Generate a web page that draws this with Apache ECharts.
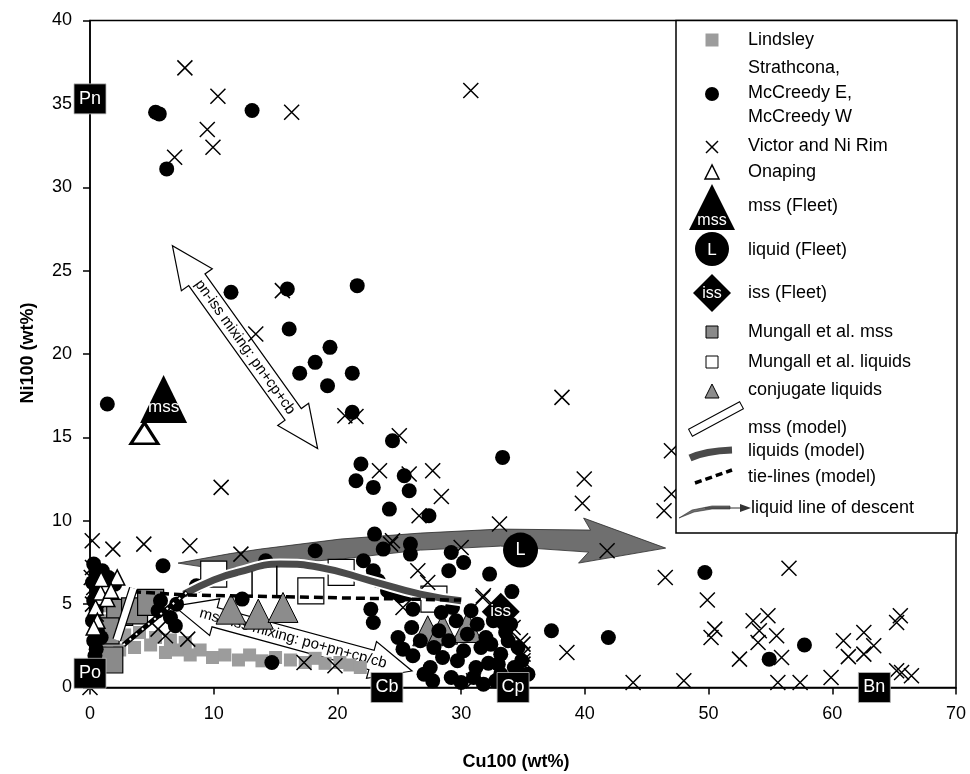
<!DOCTYPE html>
<html><head><meta charset="utf-8">
<script src="https://cdn.jsdelivr.net/npm/echarts/dist/echarts.min.js"></script>
<style>html,body{margin:0;padding:0;background:#fff}#c{width:970px;height:774px}</style>
</head><body><div id="c"></div>
<script>
const FONT = 'Liberation Sans, Arial, sans-serif';
const xRange = [0, 70, 10];
const yRange = [0, 40, 5];

const lindsley = [[0.8,2.85],[1.6,2.85],[2.4,2.25],[2.8,3.15],[3.6,2.4],[4.0,3.3],[4.9,2.55],[5.3,3.0],[6.1,2.1],[6.5,2.85],[7.1,2.25],[7.7,2.7],[8.1,1.95],[8.9,2.25],[9.9,1.8],[10.9,1.95],[12.0,1.65],[12.9,1.95],[13.9,1.6],[15.0,1.8],[16.2,1.65],[17.4,1.5],[18.2,1.75],[19.0,1.45],[20.2,1.5],[21.0,1.35],[21.85,1.2],[0.8,4.0],[1.2,4.9],[1.6,3.75],[2.0,4.5]];
const mungallMss = [[1.6,1.65],[2.4,4.5],[3.6,4.6],[4.9,5.1],[1.3,3.4]];
const mungallLiq = [[10.0,6.8],[17.85,5.8],[20.3,6.9],[27.8,5.3]];
const conjugate = [[11.4,4.7],[13.6,4.4],[15.6,4.8],[27.3,3.4],[28.5,3.5],[30.5,3.6]];
const strathcona = [[5.3,34.5],[5.6,34.4],[13.1,34.6],[6.2,31.1],[11.4,23.7],[15.95,23.9],[21.6,24.1],
[16.1,21.5],[19.4,20.4],[18.2,19.5],[16.95,18.85],[21.2,18.85],[19.2,18.1],[21.2,16.5],[1.4,17.0],
[24.45,14.8],[21.9,13.4],[21.5,12.4],[22.9,12.0],[25.4,12.7],[25.8,11.8],[24.2,10.7],[27.4,10.3],[33.35,13.8],[23.0,9.2],
[32.3,6.8],[34.1,5.75],[49.7,6.9],[37.3,3.4],[41.9,3.0],[57.75,2.55],[54.9,1.7],
[14.2,7.6],[18.2,8.2],[5.9,7.3],[8.6,6.1],[12.3,5.3],[6.9,3.7],[5.7,5.2],[14.7,1.5],[5.5,4.6],[6.5,4.2],[7.0,5.0],
[23.7,8.3],[22.1,7.6],[22.9,7.0],[23.3,6.4],[24.05,5.8],[25.9,8.6],[25.9,8.0],[29.2,8.1],[30.2,7.5],[29.0,7.0],[22.7,4.7],[22.9,3.9],[25.1,5.5],
[24.7,5.7],[25.7,5.6],[26.1,4.7],[28.4,4.5],[29.3,4.8],[24.9,3.0],[26.1,1.9],[27.5,1.2],[27.7,0.4],[29.2,0.6],[29.7,1.6],[31.6,2.4],[32.2,1.45],[31.0,0.6],[33.2,2.0],[33.8,2.8],[34.3,1.2],[34.8,0.8],[30.2,2.2],[27.8,2.4],[31.3,3.8],[32.6,4.0],[34.0,3.8],[33.2,0.8],[35.4,0.8],
[28.5,1.8],[29.0,2.8],[30.5,3.2],[31.2,1.2],[32.0,3.0],[32.8,0.4],[33.6,3.3],[34.6,2.4],[28.2,3.4],[30.0,0.3],[26.7,2.8],[26.0,3.6],[29.6,4.0],[31.8,0.2],[33.0,1.4],[34.9,1.6],[30.8,4.6],[27.0,0.8],[25.3,2.3],[32.4,2.6],
[0.3,7.4],[0.5,6.9],[0.2,6.3],[0.6,5.8],[0.3,5.2],[0.5,4.6],[0.2,4.0],[0.6,3.4],[0.3,2.8],[0.5,2.3],[0.8,6.4],[1.0,7.0],[1.2,5.9],[0.9,3.0],[1.5,6.6],[2.0,6.2],[0.4,1.9]];
const victor = [[7.67,37.16],[10.34,35.46],[16.3,34.5],[9.48,33.46],[9.94,32.4],[6.84,31.8],[30.78,35.8],[15.55,23.8],
[13.4,21.2],[20.6,16.3],[21.5,16.25],[25.0,15.1],[23.4,13.0],[25.8,12.8],[27.7,13.0],[28.4,11.45],[26.6,10.3],[10.6,12.0],[33.1,9.8],
[0.18,8.8],[1.85,8.3],[4.35,8.6],[8.07,8.5],[24.45,8.8],[12.2,8.0],
[38.15,17.4],[39.95,12.5],[39.8,11.05],[47.0,14.2],[47.0,11.6],[46.4,10.6],[41.8,8.2],[46.5,6.6],[56.5,7.15],[49.9,5.25],[50.5,3.5],[50.2,3.0],[38.55,2.1],[43.9,0.3],[48.0,0.4],[53.6,4.0],[54.8,4.3],[54.1,3.4],[54.0,2.7],[55.5,3.1],[52.5,1.7],[55.9,1.8],[55.6,0.3],[57.4,0.3],[59.9,0.6],[60.9,2.8],[61.3,1.85],[62.55,3.3],[62.55,2.0],[63.35,2.5],[65.5,4.3],[65.2,3.9],[65.2,1.0],[65.6,0.9],[66.4,0.7],
[35.0,2.6],[35.0,1.6],[34.2,3.6],[34.8,2.8],[35.0,2.0],[35.0,1.4],[31.0,0.4],
[5.5,3.5],[6.1,3.1],[7.9,2.9],[17.3,1.5],[19.8,1.3],
[24.3,8.6],[30.0,8.4],[26.5,7.0],[27.3,6.3],[25.3,4.8],[31.75,5.4],[31.8,5.5],
[0.2,7.2],[0.4,6.9],[0.1,6.6],[0.6,6.4],[0.3,6.0],[0.8,5.6],[0.2,5.0],[0.5,4.4],[0,0]];
const onaping = [[1.25,6.1],[2.2,6.6],[0.85,5.4],[0.45,4.8],[0.6,4.0],[0.85,5.7],[0.3,3.6],[1.4,5.3],[0.9,6.5],[1.7,5.8]];
const onapingBig = [[4.4,15.25]];
const fleetMss = [[5.95,17.3]];
const fleetLiq = [[34.8,8.24]];
const fleetIss = [[33.2,4.55]];
const endNames = ['Pn','Po','Cb','Cp','Bn'];
const endX = [0, 0, 24.0, 34.2, 63.4];
const endY = [35.3, 0.85, 0, 0, 0];

const mssModel = [[2.16,2.85],[3.51,5.95]];
const liqModel = [[7.6,5.6],[10.0,6.45],[11.9,6.9],[15.4,7.4],[18.6,7.2],[22.7,6.4],[26.7,5.6],[30.0,5.2]];
const tieDashed = [[3.4,5.75],[7.8,5.55],[30.0,5.24]];
const tieDotted = [[2.7,2.55],[7.85,5.72]];
const tieShort = [[[13.1,6.95],[13.1,5.45]],[[15.1,7.3],[15.1,5.45]]];

const lldX = [7.12,11.33,13.76,20.23,26.71,33.18,40.46,39.9,46.53,39.49,40.3,33.18,26.71,20.23,13.76,11.33];
const lldY = [7.46,8.03,8.30,8.90,9.26,9.50,9.44,10.16,8.36,7.46,8.12,8.48,8.24,7.70,7.34,6.98];

const mixArrows = [[6.66,26.5,18.4,14.33],[6.8,4.88,26.03,0.99]];
const mixLabels = ['pn-iss mixing: pn+cp+cb','mss-iss mixing: po+pn+cp/cb'];

const chart = echarts.init(document.getElementById('c'), null, {renderer:'canvas'});

function arrowItem(params, api){
  const a = api.coord([api.value(0), api.value(1)]);
  const b = api.coord([api.value(2), api.value(3)]);
  const hl = 42, hw = 19, sw = 10;
  const dx=b[0]-a[0], dy=b[1]-a[1], L=Math.hypot(dx,dy);
  const ux=dx/L, uy=dy/L, nx=-uy, ny=ux;
  const P=(p,t,s)=>[p[0]+ux*t+nx*s, p[1]+uy*t+ny*s];
  const pts=[a,P(a,hl,hw),P(a,hl,sw),P(b,-hl,sw),P(b,-hl,hw),b,P(b,-hl,-hw),P(b,-hl,-sw),P(a,hl,-sw),P(a,hl,-hw)];
  const mid=[(a[0]+b[0])/2,(a[1]+b[1])/2];
  return {type:'group', children:[
    {type:'polygon', shape:{points:pts}, style:{fill:'#fff', stroke:'#000', lineWidth:1.2}},
    {type:'text', x:mid[0], y:mid[1], rotation:-Math.atan2(dy,dx),
     style:{text:mixLabels[params.dataIndex], font:'15px '+FONT, fill:'#000', align:'center', verticalAlign:'middle'}}
  ]};
}
function lldItem(params, api){
  const pts = lldX.map((x,i)=>api.coord([x, lldY[i]]));
  return {type:'polygon', shape:{points:pts, smooth:0}, style:{fill:'#6f6f6f', stroke:'#2a2a2a', lineWidth:0.8}};
}

const cross = 'path://M0,0L10,10M10,0L0,10';
const series = [
  {type:'scatter', data:lindsley, symbol:'rect', symbolSize:13, itemStyle:{color:'#9c9c9c'}},
  {type:'scatter', data:mungallMss, symbol:'rect', symbolSize:26, itemStyle:{color:'#8a8a8a', borderColor:'#000', borderWidth:1.2}},
  {type:'scatter', data:mungallLiq, symbol:'rect', symbolSize:26, itemStyle:{color:'#fff', borderColor:'#000', borderWidth:1.2}},
  {type:'custom', data:[[lldX[0], lldY[0]]], renderItem:lldItem, clip:false},
  {type:'scatter', data:conjugate, symbol:'triangle', symbolSize:[30,30], itemStyle:{color:'#8c8c8c', borderColor:'#000', borderWidth:1}},
  {type:'scatter', data:strathcona, symbol:'circle', symbolSize:15, itemStyle:{color:'#000'}},
  {type:'scatter', data:victor, symbol:cross, symbolSize:15, itemStyle:{color:'rgba(0,0,0,0)', borderColor:'#000', borderWidth:1.5}, clip:false},
  {type:'scatter', data:onaping, symbol:'triangle', symbolSize:15, itemStyle:{color:'#fff', borderColor:'#000', borderWidth:1.5}},
  {type:'scatter', data:onapingBig, symbol:'triangle', symbolSize:[27,21], itemStyle:{color:'#fff', borderColor:'#000', borderWidth:3}},
  {type:'line', data:liqModel, smooth:true, showSymbol:false, symbol:'none', lineStyle:{color:'#fff', width:11}},
  {type:'line', data:liqModel, smooth:true, showSymbol:false, symbol:'none', lineStyle:{color:'#4a4a4a', width:7}},
  {type:'line', data:tieDashed, showSymbol:false, symbol:'none', lineStyle:{color:'#000', width:3.5, type:[9,5]}},
  {type:'line', data:tieDotted, showSymbol:false, symbol:'none', lineStyle:{color:'#000', width:5}},
  {type:'line', data:tieDotted, showSymbol:false, symbol:'none', lineStyle:{color:'#fff', width:2, type:[2,6]}},
  {type:'line', data:tieShort[0], showSymbol:false, symbol:'none', lineStyle:{color:'#000', width:1.5}},
  {type:'line', data:tieShort[1], showSymbol:false, symbol:'none', lineStyle:{color:'#000', width:1.5}},
  {type:'line', data:mssModel, showSymbol:false, symbol:'none', lineStyle:{color:'#000', width:9, cap:'butt'}},
  {type:'line', data:mssModel, showSymbol:false, symbol:'none', lineStyle:{color:'#fff', width:6.5, cap:'butt'}},
  {type:'custom', data:mixArrows, renderItem:arrowItem, clip:false},
  {type:'scatter', data:fleetMss, symbol:'triangle', symbolSize:[47,48], itemStyle:{color:'#000'},
   label:{show:true, formatter:'mss', color:'#fff', fontSize:17, fontFamily:FONT, position:'inside', offset:[0,8]}},
  {type:'scatter', data:fleetLiq, symbol:'circle', symbolSize:35, itemStyle:{color:'#000'},
   label:{show:true, formatter:'L', color:'#fff', fontSize:18, fontFamily:FONT, position:'inside'}},
  {type:'scatter', data:fleetIss, symbol:'diamond', symbolSize:38, itemStyle:{color:'#000'},
   label:{show:true, formatter:'iss', color:'#fff', fontSize:17, fontFamily:FONT, position:'inside'}},
  {type:'scatter', clip:false, data:endNames.map((n,i)=>({name:n, value:[endX[i], endY[i]]})), symbol:'rect', symbolSize:[32,30],
   itemStyle:{color:'#000', borderColor:'#bbb', borderWidth:0.8},
   label:{show:true, formatter:p=>p.name, color:'#fff', fontSize:18, fontFamily:FONT, position:'inside'}}
];
series.forEach(s=>{
  s.silent=true; s.animation=false;
  if(s.clip===undefined) s.clip=false;
  if(s.type==='scatter'){ s.itemStyle = Object.assign({opacity:1}, s.itemStyle); s.emphasis={disabled:true}; }
});

// legend (graphic)
const LX = 712, TX = 748;
const lt = (y, text, x)=>({type:'text', z:101, x:(x||TX), y:y, style:{text:text, font:'18px '+FONT, fill:'#000', align:'left', verticalAlign:'middle', lineHeight:24.5}});
const legend = [
  {type:'rect', z:100, shape:{x:676, y:20.5, width:281, height:512.5}, style:{fill:'#fff', stroke:'#000', lineWidth:1.5}},
  {type:'rect', z:101, shape:{x:LX-6.5, y:33.5, width:13, height:13}, style:{fill:'#9c9c9c'}}, lt(40,'Lindsley'),
  {type:'circle', z:101, shape:{cx:LX, cy:94, r:7}, style:{fill:'#000'}}, lt(93,'Strathcona,\nMcCreedy E,\nMcCreedy W'),
  {type:'polyline', z:101, shape:{points:[[LX-6,141],[LX+6,153]]}, style:{stroke:'#000', lineWidth:1.5}},
  {type:'polyline', z:101, shape:{points:[[LX+6,141],[LX-6,153]]}, style:{stroke:'#000', lineWidth:1.5}}, lt(146,'Victor and Ni Rim'),
  {type:'polygon', z:101, shape:{points:[[LX,165],[LX-7,179],[LX+7,179]]}, style:{fill:'#fff', stroke:'#000', lineWidth:1.5}}, lt(172,'Onaping'),
  {type:'polygon', z:101, shape:{points:[[LX,184],[LX-23,230],[LX+23,230]]}, style:{fill:'#000'}},
  {type:'text', z:102, x:LX, y:221, style:{text:'mss', font:'16px '+FONT, fill:'#fff', align:'center', verticalAlign:'middle'}}, lt(206,'mss (Fleet)'),
  {type:'circle', z:101, shape:{cx:LX, cy:249, r:17}, style:{fill:'#000'}},
  {type:'text', z:102, x:LX, y:250, style:{text:'L', font:'17px '+FONT, fill:'#fff', align:'center', verticalAlign:'middle'}}, lt(250,'liquid (Fleet)'),
  {type:'polygon', z:101, shape:{points:[[LX,274],[LX+19,293],[LX,312],[LX-19,293]]}, style:{fill:'#000'}},
  {type:'text', z:102, x:LX, y:294, style:{text:'iss', font:'16px '+FONT, fill:'#fff', align:'center', verticalAlign:'middle'}}, lt(293,'iss (Fleet)'),
  {type:'rect', z:101, shape:{x:LX-6, y:326, width:12, height:12}, style:{fill:'#8a8a8a', stroke:'#000', lineWidth:1}}, lt(332,'Mungall et al. mss'),
  {type:'rect', z:101, shape:{x:LX-6, y:356, width:12, height:12}, style:{fill:'#fff', stroke:'#000', lineWidth:1}}, lt(362,'Mungall et al. liquids'),
  {type:'polygon', z:101, shape:{points:[[LX,384],[LX-7,398],[LX+7,398]]}, style:{fill:'#8c8c8c', stroke:'#000', lineWidth:1}}, lt(390,'conjugate liquids'),
  {type:'rect', z:101, x:716, y:419, rotation:0.494, shape:{x:-29, y:-4, width:58, height:8}, style:{fill:'#fff', stroke:'#000', lineWidth:1}}, lt(428,'mss (model)'),
  {type:'bezierCurve', z:101, shape:{x1:690, y1:458, cpx1:705, cpy1:451, x2:732, y2:450}, style:{stroke:'#4a4a4a', lineWidth:7, fill:null}}, lt(451,'liquids (model)'),
  {type:'line', z:101, shape:{x1:695, y1:483, x2:732, y2:470}, style:{stroke:'#000', lineWidth:3.5, lineDash:[7,4]}}, lt(477,'tie-lines (model)'),
  {type:'polygon', z:101, shape:{points:[[679,518],[692,510],[712,506],[730,506],[730,509],[712,509],[694,512]]}, style:{fill:'#6f6f6f', stroke:'#2a2a2a', lineWidth:0.6}},
  {type:'line', z:101, shape:{x1:705, y1:508, x2:744, y2:508}, style:{stroke:'#333', lineWidth:1.2}},
  {type:'polygon', z:101, shape:{points:[[751,508],[740,504],[740,512]]}, style:{fill:'#333'}},
  lt(508,'liquid line of descent', 751),
  {type:'text', z:101, x:516, y:762, style:{text:'Cu100 (wt%)', font:'bold 18px '+FONT, fill:'#000', align:'center', verticalAlign:'middle'}},
  {type:'text', z:101, x:28, y:353, rotation:Math.PI/2, style:{text:'Ni100 (wt%)', font:'bold 18px '+FONT, fill:'#000', align:'center', verticalAlign:'middle'}}
];

const axisCommon = {
  type:'value',
  axisLine:{show:true, onZero:false, lineStyle:{color:'#000', width:1.5}},
  axisTick:{show:true, inside:false, length:7, lineStyle:{color:'#000', width:1.5}},
  axisLabel:{color:'#000', fontSize:18, fontFamily:FONT, margin:18},
  splitLine:{show:false}
};
chart.setOption({
  animation:false,
  backgroundColor:'#fff',
  grid:{left:90, right:14, top:20.5, bottom:86.5, show:true, borderColor:'#000', borderWidth:1.5, backgroundColor:'transparent'},
  xAxis:Object.assign({}, axisCommon, {min:xRange[0], max:xRange[1], interval:xRange[2]}),
  yAxis:Object.assign({}, axisCommon, {min:yRange[0], max:yRange[1], interval:yRange[2]}),
  series:series,
  graphic:legend
});
</script></body></html>
